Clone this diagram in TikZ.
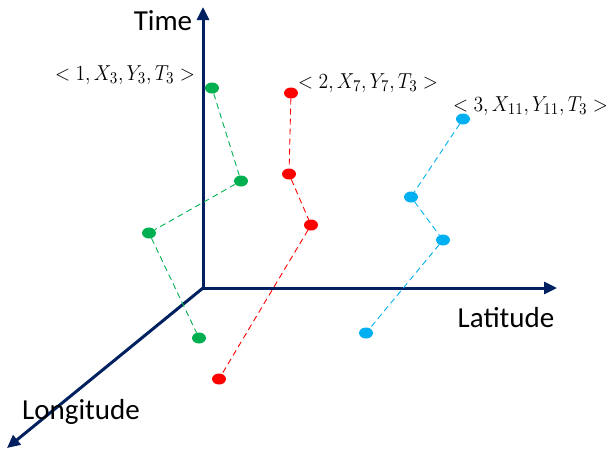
\documentclass[tikz,border=0pt]{standalone}
\usepackage{fontspec}
\setmainfont{Carlito}
\usetikzlibrary{arrows.meta,shapes.geometric}
\definecolor{axisblue}{RGB}{0,32,96}
\definecolor{dgreen}{RGB}{0,176,80}
\definecolor{dred}{RGB}{255,0,0}
\definecolor{dblue}{RGB}{0,176,240}
\newcommand{\tuplabel}[1]{\scalebox{1.37}[1.5]{$#1$}}
\begin{document}
\begin{tikzpicture}[x=1pt,y=-1pt,
  axis/.style={draw=axisblue,line width=3pt,-{Triangle[length=13pt,width=12pt]}},
  dot/.style={ellipse,fill=#1,minimum width=14pt,minimum height=11pt,inner sep=0pt},
  trail/.style={draw=#1,dashed,line width=0.9pt,dash pattern=on 6pt off 4pt},
  axlabel/.style={font=\fontsize{29}{32}\selectfont},
  tup/.style={font=\fontsize{15}{18}\selectfont,inner sep=1pt}]
\useasboundingbox (0,0) rectangle (611,453);
\coordinate (O) at (203,288);
\coordinate (T) at (203,7);
\coordinate (La) at (557,288);
\coordinate (Lo) at (7,448);
\draw[axis] (O) -- (T);
\draw[axis] (O) -- (La);
\draw[axis] (O) -- (Lo);
\node[axlabel] (tl) at (163,21) {Time};
\node[axlabel] (lal) at (506,318) {Latitude};
\node[axlabel] (lol) at (81,412) {Longitude};
% green
\node[dot=dgreen] (g1) at (212,88) {};
\node[dot=dgreen] (g2) at (241,181) {};
\node[dot=dgreen] (g3) at (149,233) {};
\node[dot=dgreen] (g4) at (199,338) {};
\draw[trail=dgreen] (g1) -- (g2) -- (g3) -- (g4);
% red
\node[dot=dred] (r1) at (291,93) {};
\node[dot=dred] (r2) at (289,174) {};
\node[dot=dred] (r3) at (311,225) {};
\node[dot=dred] (r4) at (219,379) {};
\draw[trail=dred] (r1) -- (r2) -- (r3) -- (r4);
% blue
\node[dot=dblue] (b1) at (463,119) {};
\node[dot=dblue] (b2) at (411,197) {};
\node[dot=dblue] (b3) at (443,240) {};
\node[dot=dblue] (b4) at (366,333) {};
\draw[trail=dblue] (b1) -- (b2) -- (b3) -- (b4);
% labels
\node[tup,anchor=east] (t1) at (196,75) {\tuplabel{<1,X_3,Y_3,T_3>}};
\node[tup,anchor=west] (t2) at (297,83) {\tuplabel{<2,X_7,Y_7,T_3>}};
\node[tup,anchor=east] (t3) at (609,106) {\tuplabel{<3,X_{11},Y_{11},T_3>}};
\end{tikzpicture}
\end{document}
